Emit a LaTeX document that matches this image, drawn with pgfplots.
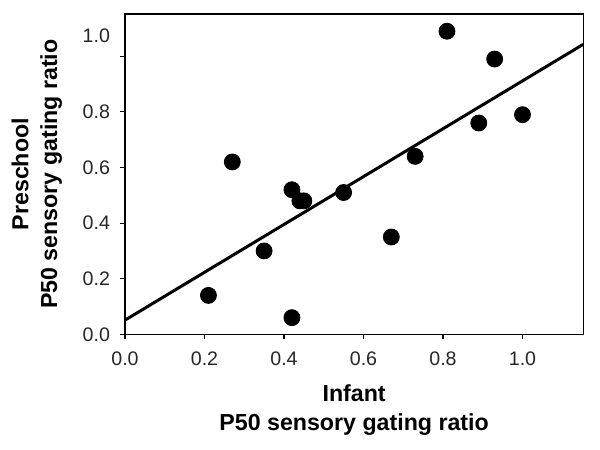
\documentclass[border=0pt]{standalone}
\usepackage{fontspec}
\setmainfont{Liberation Sans}
\usepackage{pgfplots}
\pgfplotsset{compat=1.18}
\begin{document}
\begin{tikzpicture}
\begin{axis}[
  scale only axis,
  width=229.2pt, height=160.2pt,
  xmin=0, xmax=1.153, ymin=0, ymax=1.152,
  axis line style={line width=0.7pt},
  xtick={0,0.2,0.4,0.6,0.8,1.0},
  xticklabels={0.0,0.2,0.4,0.6,0.8,1.0},
  ytick={0,0.2,0.4,0.6,0.8,1.0},
  yticklabels={0.0,0.2,0.4,0.6,0.8,},
  extra y ticks={1.072},
  extra y tick labels={1.0},
  extra y tick style={major tick length=0pt, yticklabel style={xshift=-2.5pt}},
  tick align=outside,
  xtick pos=bottom, ytick pos=left,
  major tick length=2.5pt,
  tick style={line width=0.6pt, black},
  ticklabel style={font=\fontsize{9.8}{11}\selectfont, text=black!85},
  /pgf/number format/assume math mode=true,
  xticklabel style={yshift=-2.5pt},
  yticklabel style={xshift=-1.5pt},
  xlabel={Infant\\P50 sensory gating ratio},
  ylabel={Preschool\\P50 sensory gating ratio},
  label style={font=\bfseries\fontsize{11.6}{14.3}\selectfont, align=center},
  xlabel style={yshift=-3pt},
  ylabel style={yshift=1pt},
  clip=false,
]
\addplot[only marks, mark=*, mark size=4pt, black] coordinates {
  (0.21,0.14) (0.27,0.62) (0.35,0.30) (0.42,0.06) (0.42,0.52)
  (0.44,0.48) (0.45,0.48) (0.55,0.51) (0.67,0.35) (0.73,0.64)
  (0.81,1.09) (0.89,0.76) (0.93,0.99) (1.00,0.79)
};
\addplot[black, line width=1.5pt] coordinates {(0,0.051) (1.153,1.043)};
\end{axis}
\path ([shift={(-62.5pt,-57.35pt)}]current axis.south west) rectangle ([shift={(8.35pt,7pt)}]current axis.north east);
\end{tikzpicture}
\end{document}
